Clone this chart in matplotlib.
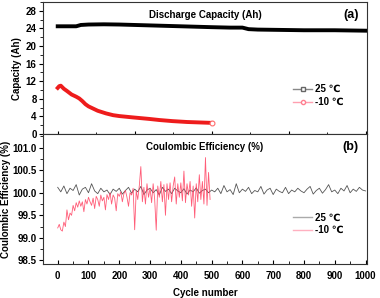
import matplotlib
matplotlib.use("Agg")
import matplotlib.pyplot as plt
from matplotlib.ticker import MultipleLocator
import numpy as np

plt.rcParams['font.family'] = ['Liberation Sans', 'DejaVu Sans']
plt.rcParams['font.weight'] = 'bold'

# ---- Data ----
cap25_cycles = [0, 30, 60, 75, 100, 150, 200, 250, 300, 350, 400, 450, 500, 560, 600, 620, 650, 700, 800, 900, 1000]
cap25_values = [24.5, 24.5, 24.5, 24.8, 24.9, 24.95, 24.9, 24.8, 24.7, 24.6, 24.5, 24.4, 24.3, 24.2, 24.2, 23.85, 23.75, 23.7, 23.6, 23.6, 23.5]

capm10_cycles = [0, 5, 10, 20, 30, 45, 60, 70, 80, 90, 100, 115, 130, 157, 180, 200, 243, 297, 330, 373, 420, 460, 500]
capm10_values = [10.5, 10.9, 11.0, 10.3, 9.8, 9.0, 8.5, 8.1, 7.5, 6.8, 6.3, 5.8, 5.3, 4.7, 4.3, 4.1, 3.8, 3.45, 3.2, 2.95, 2.75, 2.65, 2.55]

ce25_cycles = list(range(0, 1001, 10))
ce25_values = [
    100.12, 100.02, 100.15, 99.98, 100.10, 100.05, 100.18, 99.95, 100.08, 100.12,
    100.00, 100.20, 100.04, 99.98, 100.10, 100.02, 100.06, 99.96, 100.08, 100.03,
    100.10, 99.97, 100.05, 100.12, 99.99, 100.08, 100.02, 100.14, 99.96, 100.06,
    100.10, 100.00, 100.07, 99.95, 100.12, 100.03, 100.08, 99.98, 100.10, 100.04,
    100.00, 100.09, 99.97, 100.06, 100.02, 100.11, 99.99, 100.05, 100.08, 100.00,
    100.06, 100.02, 100.10, 99.98, 100.16, 100.02, 100.07, 99.96, 100.20, 100.00,
    100.08, 100.03, 100.12, 99.98, 100.05, 100.02, 100.14, 99.97, 100.06, 100.10,
    99.96, 100.08, 100.03, 100.00, 100.12, 99.98, 100.06, 100.02, 100.10, 100.04,
    100.00, 100.08, 100.14, 99.97, 100.05, 100.10, 99.99, 100.07, 100.18, 100.02,
    100.06, 99.98, 100.10, 100.04, 100.16, 100.00, 100.08, 100.03, 100.12, 100.06,
    100.04]

cem10_cycles = list(range(0, 500, 5))
cem10_values = [
    99.22, 99.30, 99.18, 99.15, 99.35, 99.25, 99.62, 99.40, 99.55, 99.50,
    99.72, 99.60, 99.78, 99.68, 99.82, 99.70, 99.80, 99.58, 99.85, 99.75,
    99.90, 99.80, 99.72, 99.88, 99.65, 99.92, 99.85, 99.70, 99.95, 99.82,
    99.90, 99.62, 99.96, 99.85, 100.00, 99.75, 99.95, 99.88, 99.60, 99.98,
    99.92, 100.02, 99.80, 99.98, 100.05, 99.90, 99.70, 100.00, 99.95, 100.10,
    99.18, 100.05, 99.85, 100.15, 100.58, 99.80, 100.12, 99.75, 100.20, 99.90,
    100.10, 99.78, 100.20, 99.85, 99.17, 100.15, 99.90, 100.25, 99.80, 100.18,
    99.50, 100.20, 99.85, 100.22, 99.80, 100.15, 100.35, 99.75, 100.20, 99.90,
    100.22, 99.82, 100.48, 99.78, 100.20, 99.95, 100.25, 99.70, 100.15, 99.44,
    100.20, 99.80, 100.40, 99.85, 100.25, 99.75, 100.78, 99.72, 100.45, 99.85]

labels = ['25 \u2103', '-10 \u2103']

# ---- Figure ----
fig = plt.figure(figsize=(3.8, 2.98), dpi=100)
left, width = 0.113, 0.853
ax1 = fig.add_axes([left, 0.550, width, 0.443])
ax2 = fig.add_axes([left, 0.114, width, 0.436])

fs = 7

# Top panel
ax1.plot(cap25_cycles, cap25_values, color='black', lw=2.8)
ax1.plot(capm10_cycles, capm10_values, color='#ee1c1c', lw=2.8)
ax1.plot([capm10_cycles[-1]], [capm10_values[-1]], 'o', mfc='white', mec='#ff6b6b', ms=3.5, mew=0.8)
# legend proxies
h1, = ax1.plot([], [], color='#888888', lw=1, marker='s', mfc='white', mec='#666666', ms=3)
h2, = ax1.plot([], [], color='#ff9fb0', lw=1, marker='o', mfc='white', mec='#ff7f90', ms=3)
ax1.legend([h1, h2], labels, loc='upper left', bbox_to_anchor=(0.75, 0.43), frameon=False,
           fontsize=fs, handlelength=2.0, handletextpad=0.3, labelspacing=0.3, borderpad=0.2)
ax1.set_xlim(-48, 1005)
ax1.set_ylim(0, 30)
ax1.yaxis.set_major_locator(MultipleLocator(4))
ax1.yaxis.set_minor_locator(MultipleLocator(2))
ax1.xaxis.set_major_locator(MultipleLocator(250))
ax1.xaxis.set_minor_locator(MultipleLocator(125))
ax1.tick_params(axis='x', which='both', direction='inout', labelbottom=False)
ax1.tick_params(axis='x', which='major', length=5)
ax1.tick_params(axis='x', which='minor', length=3)
ax1.tick_params(axis='y', which='both', direction='out', labelsize=fs, pad=1.5)
ax1.tick_params(axis='y', which='major', length=3)
ax1.tick_params(axis='y', which='minor', length=2)
ax1.set_ylabel('Capacity (Ah)', fontsize=fs, fontweight='bold', labelpad=3)
ax1.text(0.5, 0.9, 'Discharge Capacity (Ah)', transform=ax1.transAxes, ha='center', va='center',
         fontsize=fs, fontweight='bold')
ax1.text(0.975, 0.9, '(a)', transform=ax1.transAxes, ha='right', va='center', fontsize=9, fontweight='bold')

# Bottom panel
ax2.plot(ce25_cycles, ce25_values, color='#555555', lw=0.6)
ax2.plot(cem10_cycles, cem10_values, color='#ff4060', lw=0.6, alpha=0.85)
g1, = ax2.plot([], [], color='#aaaaaa', lw=1)
g2, = ax2.plot([], [], color='#ffb0c0', lw=1)
ax2.legend([g1, g2], labels, loc='upper left', bbox_to_anchor=(0.75, 0.45), frameon=False,
           fontsize=fs, handlelength=2.0, handletextpad=0.3, labelspacing=0.3, borderpad=0.2)
ax2.set_xlim(-48, 1005)
ax2.set_ylim(98.42, 101.30)
ax2.yaxis.set_major_locator(MultipleLocator(0.5))
ax2.yaxis.set_minor_locator(MultipleLocator(0.25))
ax2.xaxis.set_major_locator(MultipleLocator(100))
ax2.xaxis.set_minor_locator(MultipleLocator(50))
ax2.yaxis.set_major_formatter(matplotlib.ticker.FormatStrFormatter('%.1f'))
ax2.tick_params(axis='x', which='both', direction='in', labelsize=fs, pad=5)
ax2.tick_params(axis='x', which='major', length=3)
ax2.tick_params(axis='x', which='minor', length=2)
ax2.tick_params(axis='y', which='both', direction='out', labelsize=fs, pad=1.5)
ax2.tick_params(axis='y', which='major', length=3)
ax2.tick_params(axis='y', which='minor', length=2)
ax2.set_ylabel('Coulombic Efficiency (%)', fontsize=fs, fontweight='bold', labelpad=1)
ax2.set_xlabel('Cycle number', fontsize=fs, fontweight='bold', labelpad=5)
ax2.text(0.5, 0.9, 'Coulombic Efficiency (%)', transform=ax2.transAxes, ha='center', va='center',
         fontsize=fs, fontweight='bold')
ax2.text(0.975, 0.9, '(b)', transform=ax2.transAxes, ha='right', va='center', fontsize=9, fontweight='bold')

for ax in (ax1, ax2):
    for s in ax.spines.values():
        s.set_linewidth(0.8)
        s.set_color('#333333')
    for lab in ax.get_xticklabels() + ax.get_yticklabels():
        lab.set_fontweight('bold')

fig.savefig('out.png', dpi=100)
